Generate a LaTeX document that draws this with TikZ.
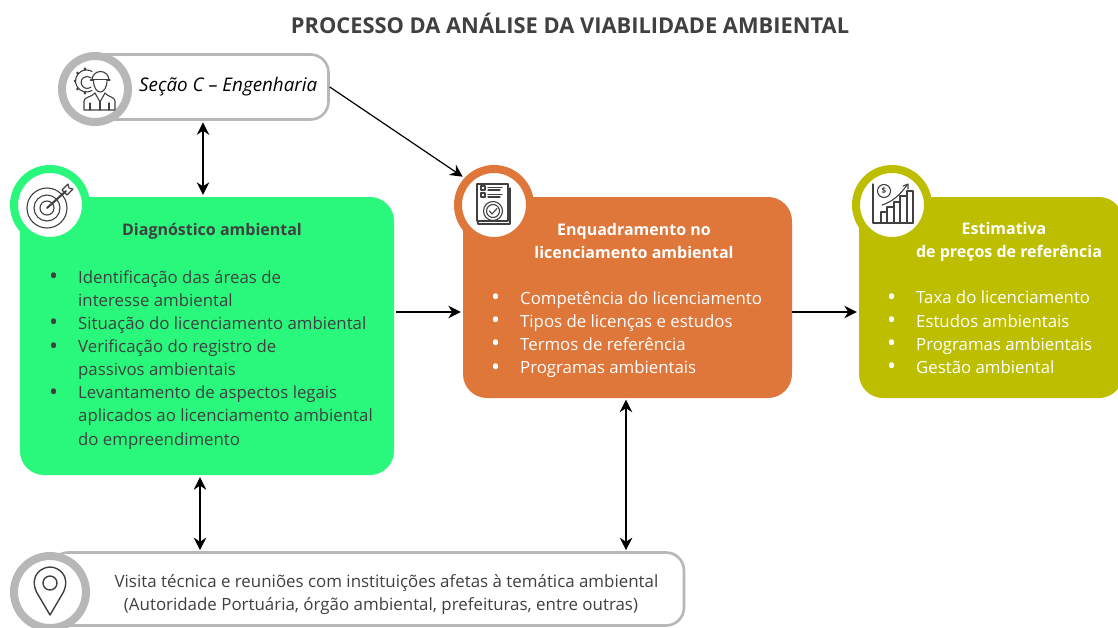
\documentclass[tikz,border=0pt]{standalone}
\usepackage{fontspec}
\setmainfont{Open Sans}
\definecolor{ink}{HTML}{404040}
\definecolor{ringgray}{HTML}{B7B7B7}
\definecolor{grn}{HTML}{2AF87C}
\definecolor{org}{HTML}{DF763A}
\definecolor{olv}{HTML}{BEBE00}
\newcommand{\itm}[1]{\makebox[29pt][l]{\raisebox{-1.5pt}{\fontsize{24}{23}\selectfont\textbullet}}#1}
\newcommand{\cnt}[1]{\hspace*{29pt}#1}
\usetikzlibrary{arrows.meta}
\tikzset{
  x=1pt,y=-1pt,
  panel/.style={rectangle,rounded corners=24pt,inner sep=0pt,fill=#1},
  outlinebox/.style={rectangle,rounded corners=18pt,inner sep=0pt,draw=ringgray,line width=2.6pt,fill=white},
  iconring/.style={circle,inner sep=0pt,minimum size=72pt,fill=white,draw=#1,line width=8pt},
  heading/.style={font=\fontsize{16}{23}\selectfont\bfseries,align=center,inner sep=0pt},
  body/.style={font=\fontsize{16.8}{23.15}\selectfont,align=left,inner sep=0pt,anchor=north west},
  icon/.style={draw=ink,line width=1.1pt,line cap=round,line join=round},
  link/.style={-{Stealth[length=12.5pt,width=12.5pt]},line width=1.2pt,black},
  linkboth/.style={{Stealth[length=12.5pt,width=12.5pt]}-{Stealth[length=12.5pt,width=12.5pt]},line width=1.2pt,black},
}
\begin{document}
\begin{tikzpicture}
\useasboundingbox (0,0) rectangle (1118,627);
\fill[white] (0,0) rectangle (1118,627);
\node[font=\fontsize{21.85}{24}\selectfont\bfseries,text=ink,inner sep=0pt] (title) at (570,23) {PROCESSO DA ANÁLISE DA VIABILIDADE AMBIENTAL};
% boxes
\node[outlinebox,minimum width=247pt,minimum height=65pt] (sec) at (205,87) {};
\node[panel=grn,minimum width=374pt,minimum height=278pt] (diag) at (207,336) {};
\node[panel=org,minimum width=329pt,minimum height=201pt] (enq) at (627.5,297.5) {};
\node[panel=olv,minimum width=264pt,minimum height=201pt] (est) at (991,297.5) {};
\node[outlinebox,minimum width=634pt,minimum height=73pt] (vis) at (367,589) {};
% rings
\node[iconring=ringgray,minimum size=66pt] (r1) at (95,89) {};
\node[iconring=grn] (r2) at (50,205) {};
\node[iconring=org] (r3) at (494,205) {};
\node[iconring=olv] (r4) at (892,205) {};
\node[iconring=ringgray] (r5) at (50,592) {};
% texts
\node[font=\fontsize{18.8}{22}\selectfont\itshape,text=black,inner sep=0pt,anchor=west] (sect) at (139,87) {Seção C – Engenharia};
\node[heading,text=ink] (dh) at (212,231) {Diagnóstico ambiental};
\node[body,text=ink] (dl) at (49,270) {\itm{Identificação das áreas de}\\\cnt{interesse ambiental}\\\itm{Situação do licenciamento ambiental}\\\itm{Verificação do registro de}\\\cnt{passivos ambientais}\\\itm{Levantamento de aspectos legais}\\\cnt{aplicados ao licenciamento ambiental}\\\cnt{do empreendimento}};
\node[heading,text=white] (eh) at (634,241) {Enquadramento no\\licenciamento ambiental};
\node[body,text=white] (el) at (491,291) {\itm{Competência do licenciamento}\\\itm{Tipos de licenças e estudos}\\\itm{Termos de referência}\\\itm{Programas ambientais}};
\node[heading,text=white] (oh) at (1009,242) {Estimativa\hspace*{10pt}\\de preços de referência};
\node[body,text=white] (ol) at (887,291) {\itm{Taxa do licenciamento}\\\itm{Estudos ambientais}\\\itm{Programas ambientais}\\\itm{Gestão ambiental}};
\node[font=\fontsize{16.9}{23}\selectfont,text=ink,inner sep=0pt,align=center] (vt) at (386.5,595) {Visita técnica e reuniões com instituições afetas à temática ambiental\\(Autoridade Portuária, órgão ambiental, prefeituras, entre outras)\hspace*{11pt}};
% engineer icon: gear
\draw[icon] (92,90.5) arc (60:300:11);
\draw[icon] (91,87) arc (50:310:6);
\foreach \a in {100,140,180,220,260}
  \draw[icon,line width=2pt,line cap=butt] (87+11*cos \a,81+11*sin \a) -- (87+13.5*cos \a,81+13.5*sin \a);
% engineer icon: helmet, face, body
\draw[icon,fill=white] (92,80) arc (180:360:8.5);
\draw[icon] (90.5,80) -- (110,80);
\draw[icon,fill=white] (93.5,80) .. controls (93.5,96) and (107,96) .. (107,80);
\draw[icon] (84,110) -- (84,101) .. controls (84,97) and (92,97) .. (95,93) -- (100,102) -- (105,93) .. controls (108,97) and (115,97) .. (115,101) -- (115,110) -- cycle;
\draw[icon] (100,102) -- (100,110) (90,103) -- (90,110) (109,103) -- (109,110);
% target icon
\draw[icon] (47,208) circle[radius=20] (47,208) circle[radius=13] (47,208) circle[radius=7];
\draw[icon,line width=2pt] (47,208) -- (66,191);
\draw[icon] (62,190) -- (68,184) -- (69,188) -- (73,189) -- (67,195) -- cycle;
% document icon
\draw[icon] (478,186) -- (478,224) -- (510,224) -- (510,188);
\draw[icon,fill=white] (477,184) rectangle (508,221);
\draw[icon] (481,186) rectangle (485,190) (481,193) rectangle (485,197) (488,187.5) -- (502,187.5) (488,190) -- (500,190) (488,194.5) -- (502,194.5) (488,197) -- (500,197);
\draw[icon] (493,211) circle[radius=9.5] (493,211) circle[radius=6.5];
\draw[icon] (489.5,211) -- (492,214) -- (497,208.5);
% chart icon
\draw[icon] (873,184) -- (873,223) -- (913,223);
\draw[icon] (881,223) -- (881,212) -- (887,212) -- (887,223) (887,212) -- (887,207) -- (894,207) -- (894,223) (894,207) -- (894,202) -- (900,202) -- (900,223) (900,202) -- (900,196) -- (907,196) -- (907,223) (907,196) -- (907,191) -- (913,191) -- (913,223);
\draw[icon] (884,191) circle[radius=6.5];
\node[font=\fontsize{8}{8}\selectfont\bfseries,text=ink,inner sep=0pt] (dollar) at (884,191) {\$};
\draw[icon] (882,205) .. controls (892,202) and (900,195) .. (907,185);
\draw[icon] (903,186) -- (908,184) -- (908,189);
% pin icon
\draw[icon,line width=1.4pt] (50,615) -- (36.5,592) .. controls (29,575) and (42,567) .. (50,567) .. controls (58,567) and (71,575) .. (63.5,592) -- cycle;
\draw[icon,line width=1.4pt] (50,583) circle[radius=7];
% connectors
\coordinate (gr) at ([xshift=2pt,yshift=24pt]diag.east);
\coordinate (orL) at ([xshift=-2pt]enq.west |- gr);
\coordinate (orR) at (enq.east |- gr);
\coordinate (olL) at ([xshift=-2pt]est.west |- gr);
\draw[linkboth] ([xshift=-2pt,yshift=-1.5pt]sec.south) -- ([xshift=-4pt,yshift=2pt]diag.north);
\draw[link] (sec.east) -- ([xshift=-3pt]r3.north west);
\draw[link] (gr) -- (orL);
\draw[link] (orR) -- (olL);
\draw[linkboth] ([xshift=-1.5pt,yshift=-1.5pt]enq.south) -- ([xshift=259pt,yshift=1pt]vis.north);
\draw[linkboth] ([xshift=-7pt,yshift=-2pt]diag.south) -- ([xshift=-167pt,yshift=1pt]vis.north);
\end{tikzpicture}
\end{document}
